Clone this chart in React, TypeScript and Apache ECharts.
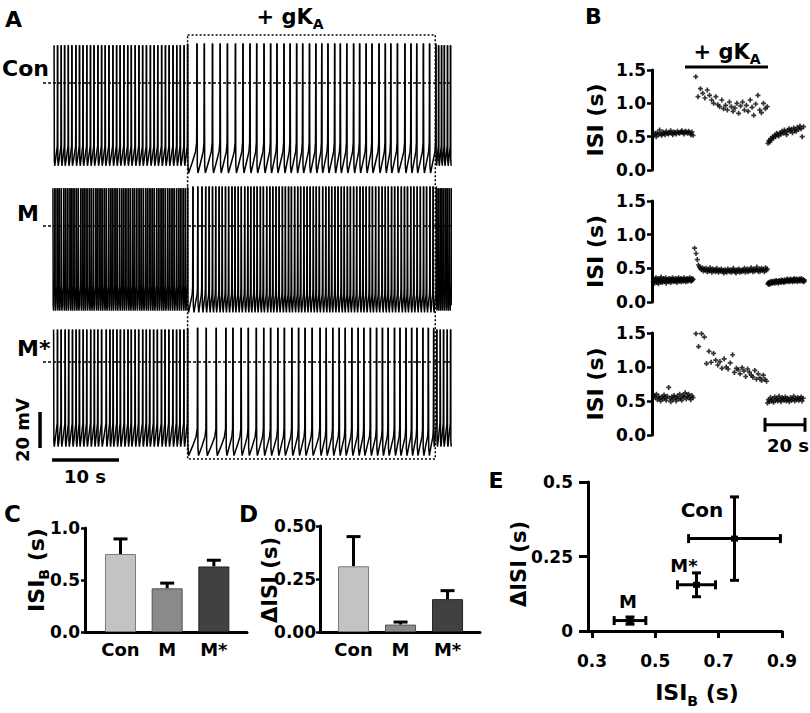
import React, { useEffect, useRef } from 'react';
import * as echarts from 'echarts';

const FONT = 'DejaVu Sans';
const categories = ['Con', 'M', 'M*'];

// Inter-spike intervals (s): before, during and after + gKA
const conPre = [0.52, 0.55, 0.50, 0.56, 0.53, 0.60, 0.54, 0.52, 0.57, 0.55, 0.53, 0.58, 0.55, 0.54, 0.56, 0.59, 0.55, 0.53, 0.57, 0.56, 0.54, 0.58, 0.56, 0.55, 0.57, 0.59, 0.56, 0.54, 0.58, 0.57, 0.55, 0.58, 0.56, 0.53, 0.57, 0.52];
const conGka = [1.40, 1.10, 1.22, 1.15, 1.08, 1.20, 1.12, 1.05, 1.00, 1.10, 0.98, 0.95, 1.05, 0.92, 0.97, 0.90, 1.02, 0.95, 0.88, 0.93, 1.00, 0.85, 0.96, 1.02, 0.90, 0.97, 0.88, 1.05, 0.94, 0.82, 0.99, 1.12, 0.90, 0.86, 1.00, 0.92, 0.95];
const conPost = [0.40, 0.44, 0.42, 0.47, 0.45, 0.50, 0.48, 0.52, 0.50, 0.55, 0.53, 0.51, 0.56, 0.54, 0.58, 0.55, 0.60, 0.57, 0.53, 0.59, 0.62, 0.58, 0.61, 0.56, 0.63, 0.60, 0.58, 0.64, 0.61, 0.66, 0.62, 0.50, 0.65];

const mPre = [0.30, 0.34, 0.28, 0.33, 0.36, 0.29, 0.31, 0.35, 0.27, 0.32, 0.34, 0.30, 0.37, 0.31, 0.29, 0.33, 0.35, 0.30, 0.32, 0.36, 0.28, 0.33, 0.31, 0.34, 0.30, 0.35, 0.32, 0.29, 0.34, 0.31, 0.36, 0.33, 0.30, 0.32, 0.35, 0.31, 0.34, 0.29, 0.33, 0.36, 0.31, 0.32, 0.35, 0.30, 0.34, 0.33, 0.31, 0.36, 0.32, 0.34, 0.30, 0.33, 0.35, 0.31, 0.34, 0.32, 0.36, 0.33, 0.31, 0.35, 0.32, 0.34];
const mGka = [0.80, 0.72, 0.63, 0.55, 0.52, 0.50, 0.48, 0.51, 0.46, 0.49, 0.47, 0.50, 0.45, 0.48, 0.46, 0.51, 0.47, 0.44, 0.49, 0.46, 0.48, 0.45, 0.50, 0.47, 0.44, 0.48, 0.46, 0.49, 0.45, 0.47, 0.43, 0.48, 0.46, 0.44, 0.49, 0.47, 0.45, 0.48, 0.44, 0.46, 0.50, 0.47, 0.45, 0.43, 0.48, 0.46, 0.49, 0.44, 0.47, 0.45, 0.48, 0.46, 0.50, 0.44, 0.47, 0.49, 0.45, 0.48, 0.46, 0.51, 0.47, 0.45, 0.49, 0.46, 0.48, 0.52, 0.47, 0.45, 0.49, 0.46, 0.50, 0.47, 0.48, 0.45, 0.51, 0.47, 0.49];
const mPost = [0.27, 0.29, 0.26, 0.28, 0.30, 0.27, 0.29, 0.31, 0.28, 0.30, 0.29, 0.31, 0.28, 0.30, 0.32, 0.29, 0.31, 0.30, 0.28, 0.32, 0.30, 0.31, 0.29, 0.33, 0.30, 0.32, 0.31, 0.29, 0.33, 0.31, 0.30, 0.32, 0.34, 0.31, 0.33, 0.30, 0.32, 0.34, 0.31, 0.33, 0.32, 0.30, 0.33, 0.35, 0.31, 0.33, 0.32, 0.34, 0.30, 0.33, 0.32, 0.34, 0.31, 0.33, 0.35, 0.32, 0.31, 0.33, 0.30, 0.32];

const msPre = [0.58, 0.55, 0.60, 0.52, 0.57, 0.54, 0.50, 0.56, 0.53, 0.59, 0.55, 0.51, 0.57, 0.70, 0.54, 0.49, 0.56, 0.52, 0.58, 0.55, 0.50, 0.57, 0.53, 0.60, 0.54, 0.51, 0.58, 0.56, 0.62, 0.53, 0.57, 0.60, 0.55, 0.52, 0.58, 0.55];
const msGka = [1.49, 1.30, 1.49, 1.44, 1.05, 1.23, 1.07, 1.20, 1.10, 1.03, 1.08, 0.98, 1.12, 1.00, 0.97, 1.06, 1.18, 0.92, 0.98, 0.96, 0.90, 0.99, 0.94, 0.86, 0.97, 0.92, 0.88, 0.85, 0.95, 0.82, 0.90, 0.84, 0.80, 0.88, 0.82, 0.79];
const msPost = [0.47, 0.52, 0.49, 0.55, 0.50, 0.53, 0.48, 0.56, 0.51, 0.54, 0.50, 0.57, 0.52, 0.49, 0.55, 0.53, 0.51, 0.56, 0.50, 0.54, 0.52, 0.49, 0.55, 0.51, 0.53, 0.57, 0.50, 0.54, 0.52, 0.55, 0.51, 0.53, 0.56, 0.50, 0.54];

// membrane potential levels (mV) per phase [before, + gKA, after]
const conPeak = [21, 22, 21];
const conTrough = [-46, -50, -46];
const conThreshold = [-35, -33, -35];
const mPeak = [21, 22, 21];
const mTrough = [-47, -48, -47];
const mThreshold = [-33, -34, -33];
const msPeak = [18, 19, 18];
const msTrough = [-47, -52, -47];
const msThreshold = [-34, -37, -34];

// + gKA window (s)
const gkaWindow = [0, 37];

// summary statistics (s)
const isiB = [0.75, 0.42, 0.63];
const isiBSem = [0.145, 0.05, 0.06];
const dIsi = [0.31, 0.035, 0.155];
const dIsiSem = [0.14, 0.012, 0.04];

const barColors = ['#c3c3c3', '#8a8a8a', '#414141'];
const barBorders = ['#7a7a7a', '#555555', '#222222'];

const A_TMIN = -28.03;
const A_TMAX = 39.5;

function buildTrain(pre: number[], gka: number[], post: number[]) {
  const isis = pre.concat(gka, post);
  const phase = pre.map(() => 0).concat(gka.map(() => 1), post.map(() => 2));
  let t = -pre.reduce((a, b) => a + b, 0);
  const out: number[][] = [];
  isis.forEach((isi, i) => {
    out.push([t, t + isi, phase[i], isi]);
    t += isi;
  });
  return out;
}

const trains = [
  buildTrain(conPre, conGka, conPost),
  buildTrain(mPre, mGka, mPost),
  buildTrain(msPre, msGka, msPost),
];
const levels = [
  [conPeak, conTrough, conThreshold],
  [mPeak, mTrough, mThreshold],
  [msPeak, msTrough, msThreshold],
];

const black = '#000';
const labelFont = (size: number) => ({ color: black, fontFamily: FONT, fontWeight: 'bold' as const, fontSize: size });

function txt(x: number, y: number, text: string, size: number, align = 'center') {
  return {
    type: 'text', x, y,
    style: { text, fontFamily: FONT, fontWeight: 'bold', fontSize: size, fill: black, align, verticalAlign: 'middle', textAlign: align, textVerticalAlign: 'middle' },
  };
}
function richSub(x: number, y: number, m1: string, sub: string, m2: string, size: number, subSize: number, rotate = false) {
  const el: any = {
    type: 'text', x: rotate ? 0 : x, y: rotate ? 0 : y,
    style: {
      text: `{m|${m1}}{s|${sub}}` + (m2 ? `{m|${m2}}` : ''),
      align: 'center', verticalAlign: 'middle', textAlign: 'center', textVerticalAlign: 'middle',
      rich: {
        m: { fontFamily: FONT, fontWeight: 'bold', fontSize: size, lineHeight: size + 8, fill: black, color: black },
        s: { fontFamily: FONT, fontWeight: 'bold', fontSize: subSize, lineHeight: subSize, verticalAlign: 'bottom', fill: black, color: black },
      },
    },
  };
  if (!rotate) return el;
  return { type: 'group', x, y, rotation: Math.PI / 2, children: [el] };
}
function rotTxt(x: number, y: number, text: string, size: number) {
  return { type: 'group', x, y, rotation: Math.PI / 2, children: [txt(0, 0, text, size)] };
}

function traceRender(lv: number[][]) {
  return (params: any, api: any) => {
    const t0 = api.value(0), t1 = api.value(1), ph = api.value(2);
    const pk = lv[0][ph], tr = lv[1][ph], th = lv[2][ph];
    const isi = t1 - t0;
    const pts = ph === 1
      ? [[t0, pk], [t0 + 0.05, tr + 4], [t0 + 0.15, tr], [t0 + 0.5 * isi, tr + 0.35 * (th - tr)], [t0 + 0.85 * isi, tr + 0.7 * (th - tr)], [t1 - 0.05, th], [t1, pk]]
      : [[t0, pk], [t0 + 0.04, tr + 3], [t0 + 0.1, tr], [t0 + 0.6 * isi, tr + 0.55 * (th - tr)], [t1 - 0.04, th], [t1, pk]];
    const shown = pts.filter((p) => p[0] <= A_TMAX).map((p) => api.coord(p));
    return { type: 'polyline', shape: { points: shown }, style: { stroke: black, lineWidth: 1.5, fill: 'none' } };
  };
}

function errRender(params: any, api: any) {
  const x = api.value(0), m = api.value(1), s = api.value(2);
  const p0 = api.coord([x, m]);
  const p1 = api.coord([x, m + s]);
  const st = { stroke: black, lineWidth: 3 };
  return {
    type: 'group', children: [
      { type: 'line', shape: { x1: p0[0], y1: p0[1], x2: p1[0], y2: p1[1] }, style: st },
      { type: 'line', shape: { x1: p1[0] - 7, y1: p1[1], x2: p1[0] + 7, y2: p1[1] }, style: st },
    ],
  };
}

function crossRender(params: any, api: any) {
  const x = api.value(0), y = api.value(1), sx = api.value(2), sy = api.value(3);
  const c = api.coord([x, y]);
  const l = api.coord([x - sx, y]);
  const r = api.coord([x + sx, y]);
  const b = api.coord([x, y - sy]);
  const t = api.coord([x, y + sy]);
  const st = { stroke: black, lineWidth: 3 };
  const cap = 4.5;
  return {
    type: 'group', children: [
      { type: 'line', shape: { x1: l[0], y1: l[1], x2: r[0], y2: r[1] }, style: st },
      { type: 'line', shape: { x1: l[0], y1: l[1] - cap, x2: l[0], y2: l[1] + cap }, style: st },
      { type: 'line', shape: { x1: r[0], y1: r[1] - cap, x2: r[0], y2: r[1] + cap }, style: st },
      { type: 'line', shape: { x1: b[0], y1: b[1], x2: t[0], y2: t[1] }, style: st },
      { type: 'line', shape: { x1: b[0] - cap, y1: b[1], x2: b[0] + cap, y2: b[1] }, style: st },
      { type: 'line', shape: { x1: t[0] - cap, y1: t[1], x2: t[0] + cap, y2: t[1] }, style: st },
      { type: 'rect', shape: { x: c[0] - 3.5, y: c[1] - 3, width: 7, height: 6 }, style: { fill: black } },
    ],
  };
}

function buildOption() {
  const aTops = [29, 172, 308];
  const bGrids = [
    { top: 70, height: 100 },
    { top: 201, height: 101 },
    { top: 333, height: 102 },
  ];
  const grid: any[] = [
    ...aTops.map((top) => ({ left: 0, top, width: 452, height: 162 })),
    { left: 0, top: 35, width: 452, height: 424 },
    ...bGrids.map((g) => ({ left: 652, top: g.top, width: 155, height: g.height })),
    { left: 85, top: 528, width: 162, height: 104 },
    { left: 320, top: 526, width: 160, height: 106 },
    { left: 588, top: 482, width: 194, height: 149 },
  ];

  const axLine = { show: true, onZero: false, lineStyle: { color: black, width: 3 } };
  const xAxis: any[] = [
    ...[0, 1, 2, 3].map((i) => ({ gridIndex: i, type: 'value', min: A_TMIN, max: A_TMAX, show: false })),
    ...[4, 5, 6].map((i) => ({ gridIndex: i, type: 'value', min: -20.5, max: 57, show: false })),
    {
      gridIndex: 7, type: 'value', min: -0.76, max: 2.71, axisLine: axLine, axisTick: { show: false }, splitLine: { show: false },
      axisLabel: { customValues: [0, 1, 2], formatter: (v: number) => categories[Math.round(v)], margin: 8, ...labelFont(18) },
    },
    {
      gridIndex: 8, type: 'value', min: -0.713, max: 2.69, axisLine: axLine, axisTick: { show: false }, splitLine: { show: false },
      axisLabel: { customValues: [0, 1, 2], formatter: (v: number) => categories[Math.round(v)], margin: 8, ...labelFont(18) },
    },
    {
      gridIndex: 9, type: 'value', min: 0.2874, max: 0.9, axisLine: axLine, splitLine: { show: false },
      axisTick: { show: true, customValues: [0.3, 0.5, 0.7, 0.9], length: 7, lineStyle: { color: black, width: 3 } },
      axisLabel: { customValues: [0.3, 0.5, 0.7, 0.9], formatter: (v: number) => v.toFixed(1), margin: 21, ...labelFont(17) },
    },
  ];
  const yAxis: any[] = [
    ...[0, 1, 2].map((i) => ({ gridIndex: i, type: 'value', min: -60, max: 30, show: false })),
    { gridIndex: 3, type: 'value', min: 0, max: 1, show: false },
    ...[4, 5, 6].map((i) => ({
      gridIndex: i, type: 'value', min: 0, max: 1.5, interval: 0.5, axisLine: axLine, splitLine: { show: false },
      axisTick: { show: true, length: 5, lineStyle: { color: black, width: 2.5 } },
      axisLabel: { formatter: (v: number) => v.toFixed(1), margin: 6, ...labelFont(17) },
    })),
    {
      gridIndex: 7, type: 'value', min: 0, max: 1, interval: 0.5, axisLine: axLine, splitLine: { show: false },
      axisTick: { show: true, length: 4, lineStyle: { color: black, width: 2.5 } },
      axisLabel: { formatter: (v: number) => v.toFixed(1), margin: 5, ...labelFont(17) },
    },
    {
      gridIndex: 8, type: 'value', min: 0, max: 0.5, interval: 0.25, axisLine: axLine, splitLine: { show: false },
      axisTick: { show: true, length: 4, lineStyle: { color: black, width: 2.5 } },
      axisLabel: { formatter: (v: number) => v.toFixed(2), margin: 4, ...labelFont(17) },
    },
    {
      gridIndex: 9, type: 'value', min: 0, max: 0.5, interval: 0.25, axisLine: axLine, splitLine: { show: false },
      axisTick: { show: true, length: 9, lineStyle: { color: black, width: 3 } },
      axisLabel: { margin: 15, ...labelFont(17) },
    },
  ];

  const series: any[] = [];
  trains.forEach((train, i) => {
    series.push({
      type: 'custom', xAxisIndex: i, yAxisIndex: i, clip: true, silent: true,
      renderItem: traceRender(levels[i]),
      data: train.filter((d) => d[0] < A_TMAX),
    });
    series.push({
      type: 'line', xAxisIndex: i, yAxisIndex: i, symbol: 'none', silent: true,
      lineStyle: { color: black, width: 1.3, type: [3, 2] },
      data: [[-21.6, 0], [A_TMAX, 0]],
    });
    series.push({
      type: 'scatter', xAxisIndex: 4 + i, yAxisIndex: 4 + i, silent: true,
      symbol: 'path://M1,0h1v1h1v1h-1v1h-1v-1h-1v-1h1z', symbolSize: 5,
      itemStyle: { color: black },
      data: train.map((d) => [d[1], d[3]]),
    });
  });
  // + gKA dotted box across the traces
  series.push({
    type: 'custom', xAxisIndex: 3, yAxisIndex: 3, silent: true,
    renderItem: (p: any, api: any) => {
      const a = api.coord([api.value(0), 1]);
      const b = api.coord([api.value(1), 0]);
      return { type: 'rect', shape: { x: a[0], y: a[1], width: b[0] - a[0], height: b[1] - a[1] }, style: { fill: 'none', stroke: black, lineWidth: 1.5, lineDash: [2, 2] } };
    },
    data: [gkaWindow],
  });
  // A scale bars: 20 mV and 10 s
  series.push({
    type: 'custom', xAxisIndex: 2, yAxisIndex: 2, silent: true,
    renderItem: (p: any, api: any) => {
      const v0 = api.coord([api.value(0), api.value(1)]);
      const v1 = api.coord([api.value(0), api.value(1) + 20]);
      const h0 = api.coord([api.value(2), api.value(3)]);
      const h1 = api.coord([api.value(2) + 10, api.value(3)]);
      const st = { stroke: black, lineWidth: 3.5 };
      return {
        type: 'group', children: [
          { type: 'line', shape: { x1: v0[0], y1: v0[1], x2: v1[0], y2: v1[1] }, style: st },
          { type: 'line', shape: { x1: h0[0], y1: h0[1], x2: h1[0], y2: h1[1] }, style: st },
        ],
      };
    },
    data: [[-22.05, -47.8, -20.25, -54.4]],
  });
  // B: + gKA bar and 20 s bar
  series.push({
    type: 'custom', xAxisIndex: 4, yAxisIndex: 4, silent: true,
    renderItem: (p: any, api: any) => {
      const a = api.coord([api.value(0), 1.545]);
      const b = api.coord([api.value(1), 1.545]);
      return { type: 'line', shape: { x1: a[0], y1: a[1], x2: b[0], y2: b[1] }, style: { stroke: black, lineWidth: 3 } };
    },
    data: [[-4, 37.5]],
  });
  series.push({
    type: 'custom', xAxisIndex: 6, yAxisIndex: 6, silent: true,
    renderItem: (p: any, api: any) => {
      const a = api.coord([api.value(0), api.value(1)]);
      const b = api.coord([api.value(0) + 20, api.value(1)]);
      const st = { stroke: black, lineWidth: 3 };
      return {
        type: 'group', children: [
          { type: 'line', shape: { x1: a[0], y1: a[1], x2: b[0], y2: b[1] }, style: st },
          { type: 'line', shape: { x1: a[0], y1: a[1] - 7, x2: a[0], y2: a[1] + 7 }, style: st },
          { type: 'line', shape: { x1: b[0], y1: b[1] - 7, x2: b[0], y2: b[1] + 7 }, style: st },
        ],
      };
    },
    data: [[36, 0.15]],
  });
  // C and D bars
  [[isiB, isiBSem, 7], [dIsi, dIsiSem, 8]].forEach(([vals, sems, gi]: any) => {
    series.push({
      type: 'bar', xAxisIndex: gi, yAxisIndex: gi, barWidth: 31, silent: true,
      data: categories.map((c, i) => ({ value: [i, vals[i]], itemStyle: { color: barColors[i], borderColor: barBorders[i], borderWidth: 1 } })),
    });
    series.push({
      type: 'custom', xAxisIndex: gi, yAxisIndex: gi, silent: true, renderItem: errRender,
      data: categories.map((c, i) => [i, vals[i], sems[i]]),
    });
  });
  // E
  series.push({
    type: 'custom', xAxisIndex: 9, yAxisIndex: 9, silent: true, renderItem: crossRender,
    data: categories.map((c, i) => [isiB[i], dIsi[i], isiBSem[i], dIsiSem[i]]),
  });

  const graphic: any[] = [
    txt(13.5, 19.5, 'A', 22),
    txt(593.5, 16.5, 'B', 22),
    txt(12.5, 513.5, 'C', 23),
    txt(248.5, 513.5, 'D', 23),
    txt(496, 480, 'E', 22),
    txt(2, 68, 'Con', 22, 'left'),
    txt(17, 213, 'M', 22, 'left'),
    txt(17, 348, 'M*', 22, 'left'),
    richSub(290, 16.5, '+ gK', 'A', '', 21, 14),
    richSub(727, 51.5, '+ gK', 'A', '', 21, 14),
    rotTxt(22.5, 430, '20 mV', 18),
    txt(85, 476, '10 s', 18),
    txt(788, 445, '20 s', 18),
    rotTxt(595.5, 120, 'ISI (s)', 22),
    rotTxt(595.5, 251.5, 'ISI (s)', 22),
    rotTxt(595.5, 384, 'ISI (s)', 22),
    richSub(36, 570, 'ISI', 'B', ' (s)', 22, 14, true),
    rotTxt(270, 580, 'ΔISI (s)', 21),
    rotTxt(519, 564, 'ΔISI (s)', 21),
    richSub(697, 692.5, 'ISI', 'B', ' (s)', 22, 14),
    txt(702, 510, 'Con', 20),
    txt(684, 565, 'M*', 18),
    txt(628, 601.5, 'M', 18),
  ];

  return { animation: false, backgroundColor: '#fff', grid, xAxis, yAxis, series, graphic };
}

export default function App() {
  const ref = useRef<HTMLDivElement>(null);
  useEffect(() => {
    const chart = echarts.init(ref.current as HTMLDivElement, null, { renderer: 'svg' });
    chart.setOption(buildOption() as any);
    return () => chart.dispose();
  }, []);
  return <div ref={ref} style={{ position: 'absolute', left: 0, top: 0, width: 810, height: 713, background: '#fff' }} />;
}
